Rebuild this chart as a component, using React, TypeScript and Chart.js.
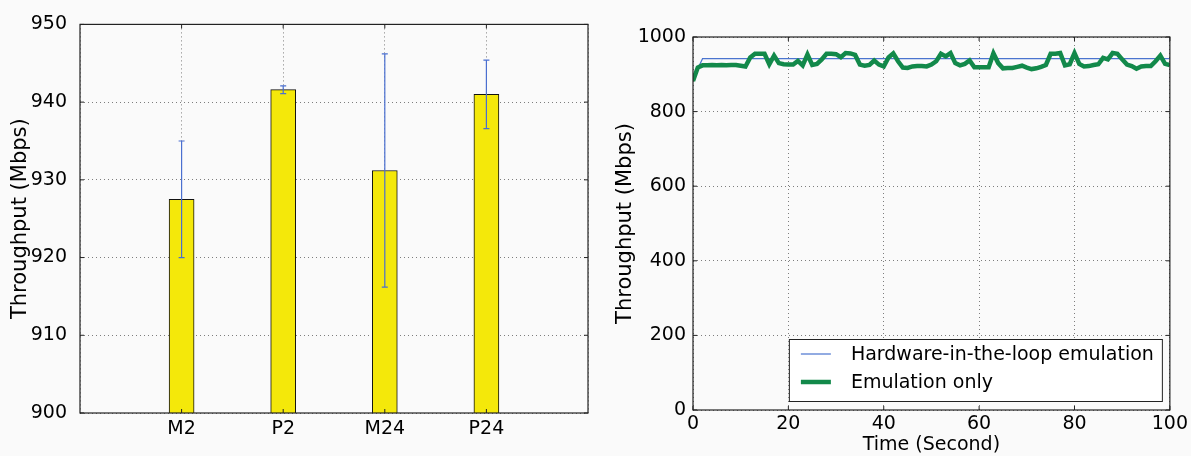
import React, { useEffect, useRef } from "react";
import { Chart, registerables } from "chart.js";

Chart.register(...registerables);

const FONT_FAMILY = "'DejaVu Sans', 'Liberation Sans', sans-serif";

// ---- Left chart data (bar chart with error bars) ----
const barCategories = ["M2", "P2", "M24", "P24"];
const barMeans = [927.5, 941.6, 931.2, 941.0];
const barErrors = [7.5, 0.5, 15.0, 4.4];
const barYMin = 900;
const barYMax = 950;
const barYStep = 10;

// ---- Right chart data (throughput over time) ----
const timeXMin = 0;
const timeXMax = 100;
const timeXStep = 20;
const throughputYMin = 0;
const throughputYMax = 1000;
const throughputYStep = 200;
const seriesLabels = ["Hardware-in-the-loop emulation", "Emulation only"];
// samples at t = 1..100 s
const hardwareInLoop = [
  915, 942, 942, 942, 942, 942, 942, 942, 942, 942,
  942, 942, 942, 942, 942, 942, 942, 942, 942, 942,
  942, 942, 942, 942, 942, 942, 942, 942, 942, 942,
  942, 942, 942, 942, 942, 942, 942, 942, 942, 942,
  942, 942, 942, 942, 942, 942, 942, 942, 942, 942,
  942, 942, 942, 942, 942, 942, 942, 942, 942, 942,
  942, 942, 942, 942, 942, 942, 942, 942, 942, 942,
  942, 942, 942, 942, 942, 942, 942, 942, 942, 942,
  942, 942, 942, 942, 942, 942, 942, 942, 942, 942,
  942, 942, 942, 942, 942, 942, 942, 942, 942, 942,
];
// samples at t = 0..100 s
const emulationOnly = [
  882,
  918, 924, 924, 925, 924, 925, 924, 925, 925, 923,
  921, 945, 955, 955, 955, 927, 950, 930, 927, 926,
  926, 936, 924, 953, 925, 928, 940, 955, 955, 954,
  946, 957, 956, 952, 926, 923, 925, 937, 926, 921,
  945, 956, 935, 918, 917, 921, 922, 922, 921, 926,
  935, 955, 948, 957, 930, 924, 928, 937, 919, 919,
  919, 919, 956, 930, 916, 917, 917, 920, 923, 918,
  914, 916, 920, 925, 955, 955, 957, 924, 927, 957,
  928, 921, 922, 925, 927, 944, 940, 957, 955, 940,
  926, 922, 915, 921, 922, 922, 935, 950, 928, 925,
];

const BAR_FILL = "#f4e80a";
const ERR_COLOR = "#4a6fd0";
const BLUE = "#4a74cf";
const GREEN = "#12894a";
const GRID_COLOR = "rgba(0,0,0,0.5)";
const BG = "#fafafa";

const tickFont = { family: FONT_FAMILY, size: 19 };
const yTitleFont = { family: FONT_FAMILY, size: 21 };
const xTitleFont = { family: FONT_FAMILY, size: 19 };
const LEGEND_FONT_SIZE = 19;

const plainTick = (v: any) => String(v);

// frame + inward ticks, like matplotlib's classic style
const framePlugin = {
  id: "frameBox",
  afterDraw(chart: any) {
    const { ctx, chartArea } = chart;
    const { left, top, right, bottom } = chartArea;
    ctx.save();
    ctx.strokeStyle = "#222";
    ctx.lineWidth = 1.2;
    ctx.strokeRect(left, top, right - left, bottom - top);
    const len = 4;
    const xs = chart.scales.x;
    const ys = chart.scales.y;
    ctx.lineWidth = 1;
    ctx.beginPath();
    xs.ticks.forEach((t: any, i: number) => {
      if (chart.config.type === "bar") {
        const lbl = xs.getLabelForValue(t.value);
        if (!lbl) return;
      }
      const px = xs.getPixelForTick(i);
      ctx.moveTo(px, bottom);
      ctx.lineTo(px, bottom - len);
      ctx.moveTo(px, top);
      ctx.lineTo(px, top + len);
    });
    ys.ticks.forEach((_t: any, i: number) => {
      const py = ys.getPixelForTick(i);
      ctx.moveTo(left, py);
      ctx.lineTo(left + len, py);
      ctx.moveTo(right, py);
      ctx.lineTo(right - len, py);
    });
    ctx.stroke();
    ctx.restore();
  },
};

const errorBarPlugin = {
  id: "errorBars",
  afterDraw(chart: any) {
    const { ctx } = chart;
    const xs = chart.scales.x;
    const ys = chart.scales.y;
    ctx.save();
    ctx.strokeStyle = ERR_COLOR;
    ctx.lineWidth = 1.2;
    barMeans.forEach((m, i) => {
      const x = xs.getPixelForValue(i + 1);
      const yTop = ys.getPixelForValue(m + barErrors[i]);
      const yBot = ys.getPixelForValue(m - barErrors[i]);
      ctx.beginPath();
      ctx.moveTo(x, yTop);
      ctx.lineTo(x, yBot);
      ctx.moveTo(x - 3, yTop);
      ctx.lineTo(x + 3, yTop);
      ctx.moveTo(x - 3, yBot);
      ctx.lineTo(x + 3, yBot);
      ctx.stroke();
    });
    ctx.restore();
  },
};

const legendPlugin = {
  id: "boxLegend",
  afterDraw(chart: any) {
    const { ctx, chartArea } = chart;
    ctx.save();
    ctx.font = `${LEGEND_FONT_SIZE}px ${FONT_FAMILY}`;
    const ds = chart.data.datasets;
    const textW = Math.max(...ds.map((d: any) => ctx.measureText(d.label).width));
    const boxW = 62 + textW + 8;
    const boxH = 62;
    const right = chartArea.right - 8;
    const bottom = chartArea.bottom - 9;
    const left = right - boxW;
    const top = bottom - boxH;
    ctx.fillStyle = "#fff";
    ctx.fillRect(left, top, boxW, boxH);
    ctx.strokeStyle = "#222";
    ctx.lineWidth = 1;
    ctx.strokeRect(left + 0.5, top + 0.5, boxW, boxH);
    const rows = [top + 15, top + 43];
    ds.forEach((d: any, i: number) => {
      ctx.strokeStyle = d.borderColor;
      ctx.lineWidth = d.borderWidth;
      ctx.beginPath();
      ctx.moveTo(left + 12, rows[i]);
      ctx.lineTo(left + 42, rows[i]);
      ctx.stroke();
      ctx.fillStyle = "#000";
      ctx.textBaseline = "middle";
      ctx.textAlign = "left";
      ctx.fillText(d.label, left + 62, rows[i] + 1);
    });
    ctx.restore();
  },
};

function BarChart() {
  const ref = useRef<HTMLCanvasElement>(null);
  useEffect(() => {
    if (!ref.current) return;
    const labels = ["", ...barCategories, ""];
    const values = [null, ...barMeans, null];
    const chart = new Chart(ref.current, {
      type: "bar",
      data: {
        labels,
        datasets: [
          {
            data: values as any,
            backgroundColor: BAR_FILL,
            borderColor: "#111",
            borderWidth: 1,
            barThickness: 25,
          },
        ],
      },
      options: {
        responsive: false,
        animation: false,
        layout: { padding: { left: 0, right: 12, top: 22, bottom: 0 } },
        plugins: { legend: { display: false }, tooltip: { enabled: false } },
        scales: {
          x: {
            z: 1,
            offset: false,
            grid: { offset: false, color: GRID_COLOR, drawTicks: false, lineWidth: 1 },
            border: { display: false, dash: [1, 3] },
            ticks: { font: tickFont, color: "#000", padding: 5, autoSkip: false, maxRotation: 0 },
            afterFit: (s: any) => {
              s.height = 43;
            },
          },
          y: {
            z: 1,
            min: barYMin,
            max: barYMax,
            grid: { color: GRID_COLOR, drawTicks: false, lineWidth: 1 },
            border: { display: false, dash: [1, 3] },
            ticks: { stepSize: barYStep, font: tickFont, color: "#000", padding: 13, callback: plainTick },
            title: {
              display: true,
              text: "Throughput (Mbps)",
              font: yTitleFont,
              color: "#000",
              padding: { top: 8, bottom: 0 },
            },
            afterFit: (s: any) => {
              s.width = 80;
            },
          },
        },
      },
      plugins: [errorBarPlugin, framePlugin],
    });
    return () => chart.destroy();
  }, []);
  return <canvas ref={ref} width={600} height={456} style={{ position: "absolute", left: 0, top: 0 }} />;
}

function LineChart() {
  const ref = useRef<HTMLCanvasElement>(null);
  useEffect(() => {
    if (!ref.current) return;
    const chart = new Chart(ref.current, {
      type: "line",
      data: {
        datasets: [
          {
            label: seriesLabels[0],
            data: hardwareInLoop.map((v, i) => ({ x: i + 1, y: v })),
            borderColor: BLUE,
            borderWidth: 1.2,
            pointRadius: 0,
            tension: 0,
            order: 1,
          },
          {
            label: seriesLabels[1],
            data: emulationOnly.map((v, i) => ({ x: i, y: v })),
            borderColor: GREEN,
            borderWidth: 4.5,
            pointRadius: 0,
            tension: 0,
            order: 0,
          },
        ],
      },
      options: {
        responsive: false,
        animation: false,
        layout: { padding: { left: 0, right: 19, top: 37, bottom: 0 } },
        plugins: { legend: { display: false }, tooltip: { enabled: false } },
        scales: {
          x: {
            type: "linear",
            min: timeXMin,
            max: timeXMax,
            grid: { color: GRID_COLOR, drawTicks: false, lineWidth: 1 },
            border: { display: false, dash: [1, 3] },
            ticks: { stepSize: timeXStep, font: tickFont, color: "#000", padding: 3, maxRotation: 0, callback: plainTick },
            title: {
              display: true,
              text: "Time (Second)",
              font: xTitleFont,
              color: "#000",
              padding: { top: 0, bottom: 0 },
            },
            afterFit: (s: any) => {
              s.height = 46;
            },
          },
          y: {
            min: throughputYMin,
            max: throughputYMax,
            grid: { color: GRID_COLOR, drawTicks: false, lineWidth: 1 },
            border: { display: false, dash: [1, 3] },
            ticks: { stepSize: throughputYStep, font: tickFont, color: "#000", padding: 7, callback: plainTick },
            title: {
              display: true,
              text: "Throughput (Mbps)",
              font: yTitleFont,
              color: "#000",
              padding: { top: 13, bottom: 0 },
            },
            afterFit: (s: any) => {
              s.width = 93;
            },
          },
        },
      },
      plugins: [framePlugin, legendPlugin],
    });
    return () => chart.destroy();
  }, []);
  return <canvas ref={ref} width={591} height={456} style={{ position: "absolute", left: 600, top: 0 }} />;
}

export default function App() {
  return (
    <div style={{ position: "absolute", left: 0, top: 0, width: 1191, height: 456, background: BG, overflow: "hidden" }}>
      <BarChart />
      <LineChart />
    </div>
  );
}
